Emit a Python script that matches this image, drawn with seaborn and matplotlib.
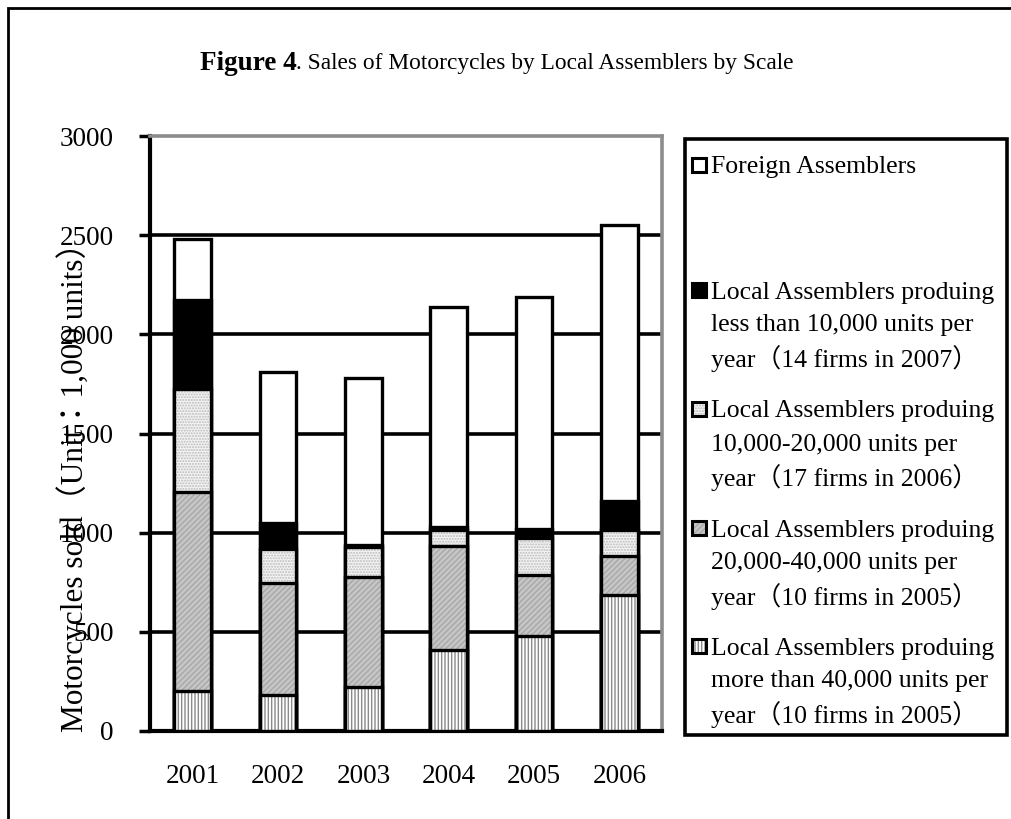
import numpy as np
import pandas as pd
import matplotlib
matplotlib.use("Agg")
import matplotlib.pyplot as plt
from matplotlib.patches import Rectangle
import seaborn as sns

# values (1,000 units)
years = ["2001", "2002", "2003", "2004", "2005", "2006"]
more_40k = [200, 180, 220, 410, 480, 685]
from_20k_40k = [1005, 565, 555, 525, 305, 195]
from_10k_20k = [520, 175, 155, 80, 190, 135]
less_10k = [450, 130, 10, 15, 45, 145]
foreign = [305, 760, 840, 1110, 1170, 1390]

legend_labels = [
    "Foreign Assemblers",
    "Local Assemblers produing\nless than 10,000 units per\nyear（14 firms in 2007）",
    "Local Assemblers produing\n10,000-20,000 units per\nyear（17 firms in 2006）",
    "Local Assemblers produing\n20,000-40,000 units per\nyear（10 firms in 2005）",
    "Local Assemblers produing\nmore than 40,000 units per\nyear（10 firms in 2005）",
]
yticks = [0, 500, 1000, 1500, 2000, 2500, 3000]

sns.set_theme(style="white")
serif = ["Liberation Serif", "Noto Sans CJK JP", "DejaVu Sans"]
plt.rcParams["font.family"] = serif
plt.rcParams["hatch.linewidth"] = 1.0
for key in ["text.color", "axes.labelcolor", "xtick.color", "ytick.color"]:
    plt.rcParams[key] = "black"

layers = [foreign, less_10k, from_10k_20k, from_20k_40k, more_40k]
df = pd.DataFrame({"year": years})
# cumulative heights, bottom layer first
stack = np.cumsum(np.array(layers[::-1]), axis=0)[::-1]

# (facecolor, hatch, hatch colour)
styles = [
    ("white", None, None),
    ("black", None, None),
    ("#f4f4f4", "......", "#bbbbbb"),
    ("#c6c6c6", "//////", "#a8a8a8"),
    ("white", "|||||", "#8a8a8a"),
]

fig = plt.figure(figsize=(10.11, 8.19), dpi=100)
ax = fig.add_axes([150 / 1011, 1 - 731 / 819, 512 / 1011, 595 / 819])

for gl in [500, 1000, 1500, 2000, 2500]:
    ax.axhline(gl, color="black", lw=2.6, zorder=0.5)

for i, (heights, (fc, hatch, hc)) in enumerate(zip(stack, styles)):
    df["h"] = heights
    z = 2 + i * 2
    if hatch:
        sns.barplot(data=df, x="year", y="h", color=fc, width=0.43, ax=ax,
                    saturation=1, edgecolor=hc, linewidth=0, hatch=hatch,
                    zorder=z)
    else:
        sns.barplot(data=df, x="year", y="h", color=fc, width=0.43, ax=ax,
                    saturation=1, linewidth=0, zorder=z)
    sns.barplot(data=df, x="year", y="h", width=0.43, ax=ax,
                facecolor="none", edgecolor="black", linewidth=2.4,
                zorder=z + 1)

ax.set_xlim(-0.5, 5.5)
ax.set_ylim(0, 3000)
ax.set_yticks(yticks)
ax.set_yticklabels([str(t) for t in yticks], fontsize=19.5)
ax.set_xticks(range(len(years)))
ax.set_xticklabels(years, fontsize=19.5)
ax.set_xlabel("")
ax.set_ylabel("")
ax.tick_params(axis="x", length=0, pad=24)
ax.set_xticks(np.arange(0.5, 6, 1), minor=True)
ax.tick_params(axis="x", which="minor", direction="in", length=7, width=2.5,
               color="black")
ax.tick_params(axis="y", direction="out", length=8, width=2.5, color="black",
               pad=18, left=True)
for s in ["left", "bottom"]:
    ax.spines[s].set_color("black")
    ax.spines[s].set_linewidth(3)
for s in ["top", "right"]:
    ax.spines[s].set_color("#8c8c8c")
    ax.spines[s].set_linewidth(2.6)

fig.text(73 / 1011, 1 - 480 / 819, "Motorcycles sold（Unit：1,000 units）",
         rotation=90, ha="center", va="center", fontsize=22.5, family=serif)

# bold part + plain part of the title
fig.text(200 / 1011, 1 - 64 / 819, "Figure 4", ha="left", va="center",
         fontsize=19.5, fontweight="bold", family=serif)
fig.text(296 / 1011, 1 - 64 / 819,
         ". Sales of Motorcycles by Local Assemblers by Scale",
         ha="left", va="center", fontsize=16.8, family=serif)

# legend box drawn by hand to keep the markers on the first line
fig.patches.append(Rectangle((685 / 1011, 1 - 735 / 819), 322 / 1011,
                             596 / 819, transform=fig.transFigure,
                             fill=False, edgecolor="black", lw=2.6))
entry_y = [165, 290, 409, 528, 646]
for (fc, hatch, hc), lab, yy in zip(styles, legend_labels, entry_y):
    x0, size = 692, 14
    box = (x0 / 1011, 1 - (yy + size / 2) / 819)
    fig.patches.append(Rectangle(box, size / 1011, size / 819,
                                 transform=fig.transFigure, facecolor=fc,
                                 edgecolor=hc if hatch else "black",
                                 hatch=hatch, lw=0 if hatch else 2.2))
    if hatch:
        fig.patches.append(Rectangle(box, size / 1011, size / 819,
                                     transform=fig.transFigure, fill=False,
                                     edgecolor="black", lw=2.2))
    # one text per line so the CJK brackets do not stretch the spacing
    for k, line in enumerate(lab.split("\n")):
        fig.text(711 / 1011, 1 - (yy + 33 * k) / 819, line, ha="left",
                 va="center_baseline", fontsize=18.5, family=serif)

# outer frame
fig.patches.append(Rectangle((8 / 1011, -0.05), 1.1, 1 - 8 / 819 + 0.05,
                             transform=fig.transFigure, fill=False,
                             edgecolor="black", lw=2))

fig.savefig("out.png", dpi=100)
